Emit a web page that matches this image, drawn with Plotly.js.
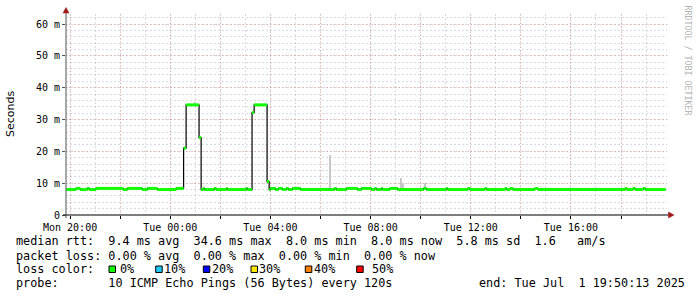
<!DOCTYPE html>
<html>
<head>
<meta charset="utf-8">
<script src="https://cdn.plot.ly/plotly-3.0.1.min.js"></script>
<style>html,body{margin:0;padding:0;background:#fff;}#chart{width:697px;height:297px;}</style>
</head>
<body>
<div id="chart"></div>
<script>
// ---- data ----
const rangeStart = "2025-06-30 19:50:13";
const rangeEnd = "2025-07-01 19:50:13";
const medianEnd = "2025-07-01 19:47";

// median rtt (ms), each value holds from its time to the next time
const stepTimes = [
  "2025-06-30 19:50","2025-06-30 20:14","2025-06-30 20:24","2025-06-30 20:41","2025-06-30 20:46",
  "2025-06-30 21:02","2025-06-30 22:07","2025-06-30 22:17","2025-06-30 22:53","2025-06-30 23:05",
  "2025-06-30 23:29","2025-07-01 00:14","2025-07-01 00:32","2025-07-01 00:38","2025-07-01 01:09",
  "2025-07-01 01:14","2025-07-01 01:19","2025-07-01 01:22","2025-07-01 01:46","2025-07-01 01:50",
  "2025-07-01 02:14","2025-07-01 02:17","2025-07-01 03:02","2025-07-01 03:05","2025-07-01 03:16",
  "2025-07-01 03:21","2025-07-01 03:52","2025-07-01 03:57","2025-07-01 04:00","2025-07-01 04:12",
  "2025-07-01 04:19","2025-07-01 04:29","2025-07-01 04:38","2025-07-01 04:43","2025-07-01 04:53",
  "2025-07-01 05:12","2025-07-01 06:34","2025-07-01 06:38","2025-07-01 07:02","2025-07-01 07:29",
  "2025-07-01 07:38","2025-07-01 08:02","2025-07-01 08:10","2025-07-01 08:14","2025-07-01 08:26",
  "2025-07-01 08:29","2025-07-01 08:46","2025-07-01 09:05","2025-07-01 10:07","2025-07-01 10:14",
  "2025-07-01 11:02","2025-07-01 11:05","2025-07-01 11:53","2025-07-01 11:58","2025-07-01 12:34",
  "2025-07-01 12:38","2025-07-01 13:22","2025-07-01 13:26","2025-07-01 13:34","2025-07-01 13:41",
  "2025-07-01 14:34","2025-07-01 14:41","2025-07-01 18:10","2025-07-01 18:14","2025-07-01 18:29",
  "2025-07-01 18:34","2025-07-01 18:53","2025-07-01 18:58"
];
const medianMs = [
  8.0, 8.35, 8.0, 8.35, 8.0,
  8.35, 8.0, 8.35, 8.0, 8.35,
  8.0, 8.35, 21.0, 34.6, 24.3,
  8.0, 8.35, 8.0, 8.35, 8.0,
  8.35, 8.0, 8.35, 8.0, 32.2,
  34.6, 10.5, 8.0, 8.35, 8.0,
  8.35, 8.0, 8.35, 8.0, 8.35,
  8.0, 8.35, 8.0, 8.35, 8.0,
  8.35, 8.0, 8.35, 8.0, 8.35,
  8.0, 8.35, 8.0, 8.35, 8.0,
  8.35, 8.0, 8.35, 8.0, 8.35,
  8.0, 8.35, 8.0, 8.35, 8.0,
  8.35, 8.0, 8.35, 8.0, 8.35,
  8.0, 8.35, 8.0
];

// smoke (spread of pings), ms
const smokeTimes = ["2025-07-01 01:00","2025-07-01 06:22","2025-07-01 09:14","2025-07-01 09:18","2025-07-01 10:10"];
const smokeLow  = [34.6, 8.0, 8.0, 8.0, 8.0];
const smokeHigh = [35.4, 18.9, 11.7, 10.0, 9.9];

const xTickVals = ["2025-06-30 20:00","2025-06-30 22:00","2025-07-01 00:00","2025-07-01 02:00","2025-07-01 04:00","2025-07-01 06:00",
                   "2025-07-01 08:00","2025-07-01 10:00","2025-07-01 12:00","2025-07-01 14:00","2025-07-01 16:00","2025-07-01 18:00"];
const xTickText = ["Mon 20:00","","Tue 00:00","","Tue 04:00","","Tue 08:00","","Tue 12:00","","Tue 16:00",""];
const yTickVals = [0,10,20,30,40,50,60];
const yTickText = ["0","10 m","20 m","30 m","40 m","50 m","60 m"];

const legendLines = [
  "median rtt:  9.4 ms avg  34.6 ms max  8.0 ms min  8.0 ms now  5.8 ms sd  1.6   am/s",
  "packet loss: 0.00 % avg  0.00 % max  0.00 % min  0.00 % now",
  "loss color:",
  "probe:       10 ICMP Echo Pings (56 Bytes) every 120s"
];
const lossLabels = ["0%","10%","20%","30%","40%","50%"];
const lossColors = ["#11ff00","#1ec8f5","#0000ff","#ffe600","#ff7f00","#ff0000"];
const endText = "end: Tue Jul  1 19:50:13 2025";
const sideText = "RRDTOOL / TOBI OETIKER";

// ---- layout geometry (pixels) ----
const W = 697, H = 297, L = 66, T = 14, PW = 601, PH = 201;
const R = W - L - PW, B = H - T - PH;
const pxX = x => (x - L) / PW;
const pxY = y => (T + PH - y) / PH;
const nb = s => s.replace(/ /g, "\u00A0");

// green segments (median coloured by loss) built from the step data
const gX = [], gY = [];
for (let i = 0; i < stepTimes.length; i++) {
  const t1 = i < stepTimes.length - 1 ? stepTimes[i + 1] : medianEnd;
  gX.push(stepTimes[i], t1, null);
  gY.push(medianMs[i], medianMs[i], null);
}

const traces = [
  {type: "bar", x: smokeTimes, base: smokeLow, y: smokeHigh.map((h, i) => h - smokeLow[i]),
   width: 280000, marker: {color: "#c8c8c8", line: {width: 0}}, hoverinfo: "skip"},
  {type: "scatter", mode: "lines", x: stepTimes.concat([medianEnd]), y: medianMs.concat([medianMs[medianMs.length - 1]]),
   line: {color: "#000", width: 1.2, shape: "hv"}, hoverinfo: "skip"},
  {type: "scatter", mode: "lines", x: gX, y: gY, connectgaps: false,
   line: {color: lossColors[0], width: 3}, hoverinfo: "skip"}
];

const mono = "DejaVu Sans Mono";
const annotations = [];
const lineY = [240.7, 255.7, 269.3, 283.3];
legendLines.forEach((s, i) => annotations.push({
  xref: "paper", yref: "paper", x: pxX(16), y: pxY(lineY[i]), xanchor: "left", yanchor: "middle",
  text: nb(s), showarrow: false, borderpad: 0, borderwidth: 0, font: {family: mono, size: 11.8, color: "#000"}
}));
annotations.push({xref: "paper", yref: "paper", x: pxX(479), y: pxY(lineY[3]), xanchor: "left", yanchor: "middle",
  text: nb(endText), showarrow: false, borderpad: 0, borderwidth: 0, font: {family: mono, size: 11.8, color: "#000"}});
const boxX = [109, 155.7, 203.3, 251, 305.3, 356.7];
const labX = [120, 164, 211.5, 259, 314, 371.5];
const shapes = [];
lossLabels.forEach((s, i) => {
  annotations.push({xref: "paper", yref: "paper", x: pxX(labX[i]), y: pxY(lineY[2]), xanchor: "left", yanchor: "middle",
    text: nb(s), showarrow: false, borderpad: 0, borderwidth: 0, font: {family: mono, size: 11.8, color: "#000"}});
  shapes.push({type: "rect", xref: "paper", yref: "paper", x0: pxX(boxX[i]), x1: pxX(boxX[i] + 6.5),
    y0: pxY(272.5), y1: pxY(266), fillcolor: lossColors[i], line: {color: "#000", width: 1}});
});
annotations.push({xref: "paper", yref: "paper", x: pxX(11), y: pxY(114), xanchor: "center", yanchor: "middle",
  text: "Seconds", textangle: -90, showarrow: false, font: {family: "DejaVu Sans", size: 11, color: "#000"}});
annotations.push({xref: "paper", yref: "paper", x: pxX(687.5), y: pxY(60), xanchor: "center", yanchor: "middle",
  text: nb(sideText), textangle: 90, showarrow: false, font: {family: mono, size: 8.3, color: "#b4b4b4"}});

// axis lines and arrows
shapes.push({type: "line", xref: "paper", yref: "paper", x0: pxX(66), x1: pxX(66), y0: pxY(218), y1: pxY(11), line: {color: "#555", width: 1}});
shapes.push({type: "line", xref: "paper", yref: "paper", x0: pxX(63), x1: pxX(670), y0: pxY(215), y1: pxY(215), line: {color: "#000", width: 1.2}});
shapes.push({type: "path", xref: "paper", yref: "paper",
  path: `M ${pxX(63)} ${pxY(13)} L ${pxX(69)} ${pxY(13)} L ${pxX(66)} ${pxY(7.5)} Z`, fillcolor: "#a01818", line: {color: "#a01818", width: 0.5}});
shapes.push({type: "path", xref: "paper", yref: "paper",
  path: `M ${pxX(668.5)} ${pxY(212)} L ${pxX(668.5)} ${pxY(218)} L ${pxX(674)} ${pxY(215)} Z`, fillcolor: "#a01818", line: {color: "#a01818", width: 0.5}});

const majorGrid = "rgba(225,100,100,0.42)";
const minorGrid = "rgba(160,160,160,0.38)";
const layout = {
  width: W, height: H, margin: {l: L, r: R, t: T, b: B, pad: 0},
  paper_bgcolor: "#fff", plot_bgcolor: "#fff", showlegend: false, bargap: 0,
  xaxis: {type: "date", range: [rangeStart, rangeEnd], tickmode: "array", tickvals: xTickVals, ticktext: xTickText,
    showgrid: true, gridcolor: majorGrid, griddash: "1px,2px", gridwidth: 1, zeroline: false, showline: false,
    ticks: "outside", ticklen: 3, tickcolor: "#000", tickfont: {family: mono, size: 10, color: "#000"},
    minor: {dtick: 3600000, tick0: "2025-06-30 20:00", showgrid: true, gridcolor: minorGrid, griddash: "2px,2px", gridwidth: 1, ticks: ""},
    fixedrange: true},
  yaxis: {range: [0, 63.15], tickmode: "array", tickvals: yTickVals, ticktext: yTickText,
    showgrid: true, gridcolor: majorGrid, griddash: "1px,2px", gridwidth: 1, zeroline: false, showline: false,
    ticks: "outside", ticklen: 3, tickcolor: "#555", tickfont: {family: mono, size: 10, color: "#000"},
    minor: {dtick: 2, tick0: 0, showgrid: true, gridcolor: minorGrid, griddash: "2px,2px", gridwidth: 1, ticks: ""},
    fixedrange: true},
  annotations: annotations, shapes: shapes
};

Plotly.newPlot("chart", traces, layout, {staticPlot: true, displayModeBar: false});
</script>
</body>
</html>
